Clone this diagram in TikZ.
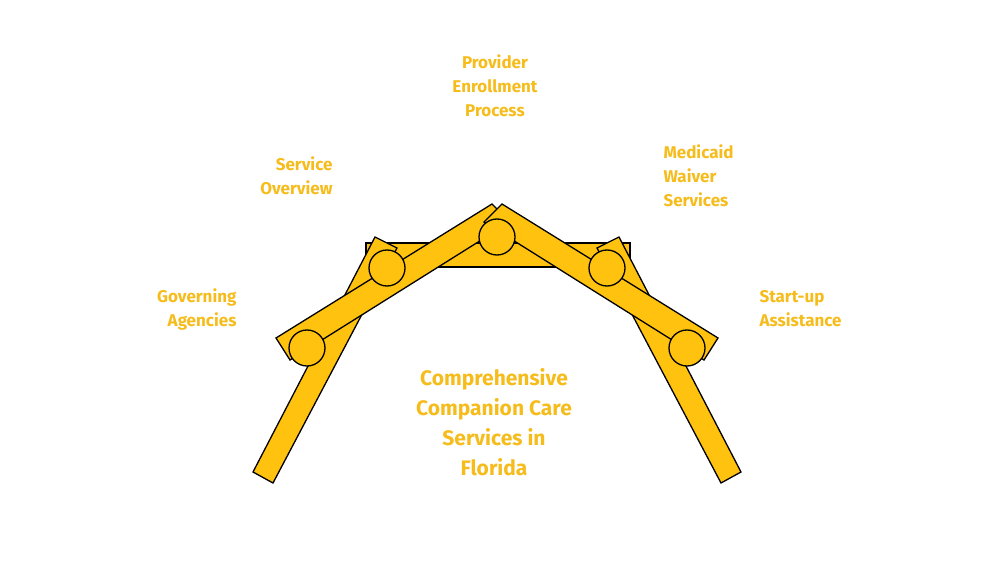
\documentclass[tikz,border=0pt]{standalone}
\usepackage{fontspec}
\setmainfont{Fira Sans}
\definecolor{gold}{HTML}{FFC20E}
\definecolor{labelgold}{HTML}{F5BC1C}
\begin{document}
\begin{tikzpicture}[x=1pt,y=-1pt,
		bar/.style={draw=black,line width=1.3pt,fill=gold,line join=miter},
		joint/.style={draw=black,line width=1.3pt,fill=gold},
		lbl/.style={text=labelgold,font=\fontsize{17}{24}\selectfont\bfseries,align=#1},
		title/.style={text=labelgold,font=\fontsize{21}{30}\selectfont\bfseries,align=center}]
		\useasboundingbox (0,0) rectangle (996,564);
		% bars
		\draw[bar] (366,243) rectangle (630,267);
		\draw[bar] (253,472) -- (273,483) -- (397,248) -- (375,237) -- cycle;
		\draw[bar] (741,472) -- (721,483) -- (597,248) -- (619,237) -- cycle;
		\draw[bar] (276,338) -- (290,360) -- (510,222) -- (492,204) -- cycle;
		\draw[bar] (718,338) -- (704,360) -- (484,222) -- (502,204) -- cycle;
		% joints
		\foreach \x/\y in {307/348,387/268,497/237,607/268,687/348}
			\draw[joint] (\x,\y) circle (18);
		% labels
		\node[lbl=center] (provider) at (495,86) {Provider\\Enrollment\\Process};
		\node[lbl=right,anchor=east] (service) at (336,176) {Service\\Overview};
		\node[lbl=right,anchor=east] (governing) at (240,309) {Governing\\Agencies};
		\node[lbl=left,anchor=west] (medicaid) at (660,176) {Medicaid\\Waiver\\Services};
		\node[lbl=left,anchor=west] (startup) at (756,309) {Start-up\\Assistance};
		\node[title] (main) at (494,422) {Comprehensive\\Companion Care\\Services in\\Florida};
	\end{tikzpicture}
\end{document}
